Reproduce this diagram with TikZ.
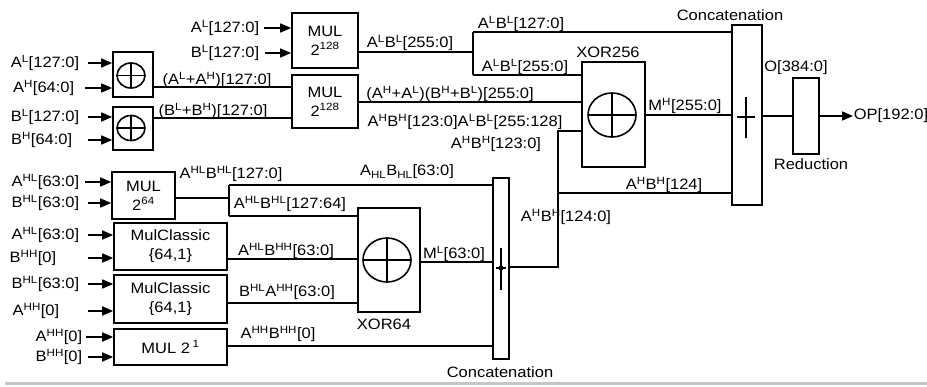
\documentclass[tikz,border=0pt]{standalone}
\usepackage{fontspec}
\setmainfont{Liberation Sans}[FakeStretch=1.1]
\usetikzlibrary{arrows.meta,calc}
\newcommand\myup[1]{\textsuperscript{#1}}
\newcommand\mydn[1]{\textsubscript{#1}}
\begin{document}
\begin{tikzpicture}[x=1pt,y=-1pt,line width=1.6pt,
  every node/.style={font=\fontsize{15}{19}\selectfont,inner sep=0pt},
  blk/.style={draw,rectangle,align=center},
  inarr/.style={-{Triangle[length=11pt,width=9pt]}},
  sym/.style={line width=1.6pt}]
\useasboundingbox (0,0) rectangle (927,386);

% ---------- boxes ----------
\node[blk,minimum width=66pt,minimum height=55pt] (mul1) at (325,40.5) {MUL\\2\myup{128}};
\node[blk,minimum width=66pt,minimum height=53pt] (mul2) at (325,101.5) {MUL\\2\myup{128}};
\node[blk,minimum width=40pt,minimum height=45pt] (xa) at (133,74.5) {};
\node[blk,minimum width=40pt,minimum height=43pt] (xb) at (133,128.5) {};
\node[blk,minimum width=63pt,minimum height=105pt] (x256) at (613.5,114.5) {};
\node[blk,minimum width=30pt,minimum height=180pt] (cat1) at (747,115) {};
\node[blk,minimum width=26pt,minimum height=76pt] (red) at (806,116) {};
\node[blk,minimum width=63pt,minimum height=47pt] (mul64) at (143.5,195.5) {MUL\\2\myup{64}};
\node[blk,minimum width=113pt,minimum height=47pt] (mc1) at (170.5,246.5) {MulClassic\\\{64,1\}};
\node[blk,minimum width=113pt,minimum height=48pt] (mc2) at (170.5,299) {MulClassic\\\{64,1\}};
\node[blk,minimum width=113pt,minimum height=36pt] (mulb) at (170.5,347) {MUL 2\,\myup{1}};
\node[blk,minimum width=62pt,minimum height=104pt] (x64) at (389,260) {};
\node[blk,minimum width=16pt,minimum height=181pt] (cat2) at (501,268.5) {};

% ---------- symbols ----------
\draw[sym] (131,75.5) ellipse [x radius=14pt,y radius=12.5pt];
\draw[sym] (117,75.5) -- (145,75.5) (131,63) -- (131,88);
\draw[sym] (131,128) ellipse [x radius=14pt,y radius=12.5pt];
\draw[sym] (117,128) -- (145,128) (131,115.5) -- (131,140.5);
\draw[sym] (612,115) ellipse [x radius=24pt,y radius=22pt];
\draw[sym] (588,115) -- (636,115) (612,93) -- (612,137);
\draw[sym] (387,260) ellipse [x radius=24pt,y radius=22pt];
\draw[sym] (363,260) -- (411,260) (387,238) -- (387,282);
\draw[line width=2.5pt] (746,97) -- (746,138) (737,117) -- (755,117);
\draw[line width=2pt] (501,248) -- (501,290) (496,268) -- (506,268);
\fill (501,268) circle (2.5pt);

% ---------- box captions ----------
\node (cXa) at (608,52) {XOR256};
\node (cCa) at (730,15) {Concatenation};
\node (cRed) at (811,164) {Reduction};
\node (cXb) at (384,324) {XOR64};
\node (cCb) at (500,372) {Concatenation};

% ---------- inputs ----------
\node[anchor=east] (i1) at (260,28) {A\myup{L}[127:0]};
\node[anchor=east] (i2) at (260,53) {B\myup{L}[127:0]};
\node[anchor=east] (i3) at (80,63) {A\myup{L}[127:0]};
\node[anchor=east] (i4) at (75,88) {A\myup{H}[64:0]};
\node[anchor=east] (i5) at (80,117) {B\myup{L}[127:0]};
\node[anchor=east] (i6) at (73,140) {B\myup{H}[64:0]};
\node[anchor=east] (i7) at (80,182) {A\myup{HL}[63:0]};
\node[anchor=east] (i8) at (80,203) {B\myup{HL}[63:0]};
\node[anchor=east] (i9) at (80,235) {A\myup{HL}[63:0]};
\node[anchor=east] (i10) at (57,258) {B\myup{HH}[0]};
\node[anchor=east] (i11) at (80,284) {B\myup{HL}[63:0]};
\node[anchor=east] (i12) at (60,311) {A\myup{HH}[0]};
\node[anchor=east] (i13) at (83,337) {A\myup{HH}[0]};
\node[anchor=east] (i14) at (83,357) {B\myup{HH}[0]};

\draw[inarr] ([xshift=4pt]i1.east) -- (mul1.west |- i1.east);
\draw[inarr] ([xshift=5pt]i2.east) -- (mul1.west |- i2.east);
\draw[inarr] ([xshift=8pt]i3.east) -- (xa.west |- i3.east);
\draw[inarr] ([xshift=10pt]i4.east) -- (xa.west |- i4.east);
\draw[inarr] ([xshift=8pt]i5.east) -- (xb.west |- i5.east);
\draw[inarr] ([xshift=15pt]i6.east) -- (xb.west |- i6.east);
\draw[inarr] ([xshift=5pt]i7.east) -- (mul64.west |- i7.east);
\draw[inarr] ([xshift=8pt]i8.east) -- (mul64.west |- i8.east);
\draw[inarr] ([xshift=8pt]i9.east) -- (mc1.west |- i9.east);
\draw[inarr] ([xshift=31pt]i10.east) -- (mc1.west |- i10.east);
\draw[inarr] ([xshift=8pt]i11.east) -- (mc2.west |- i11.east);
\draw[inarr] ([xshift=28pt]i12.east) -- (mc2.west |- i12.east);
\draw[inarr] ([xshift=3pt]i13.east) -- (mulb.west |- i13.east);
\draw[inarr] ([xshift=5pt]i14.east) -- (mulb.west |- i14.east);

% ---------- connectors (upper) ----------
\draw (xa.east |- 0,87) -- (mul2.west |- 0,87);
\draw (xb.east |- 0,118) -- (mul2.west |- 0,118);
\coordinate (j0) at (473,52);
\coordinate (jt) at (473,32);
\coordinate (jb) at (473,75);
\draw (mul1.east |- j0) -- (j0);
\draw (jt) -- (jb);
\draw (jt) -- (cat1.west |- jt);
\draw (jb) -- (x256.west |- jb);
\draw (mul2.east |- 0,102) -- (x256.west |- 0,102);
\coordinate (k1) at (558,131);
\coordinate (k2) at (558,193);
\coordinate (k3) at (558,267);
\draw (cat2.east |- k3) -- (k3) -- (k1) -- (x256.west |- k1);
\draw (k2) -- (cat1.west |- k2);
\draw (x256.east |- 0,115) -- (cat1.west |- 0,115);
\draw (cat1.east |- 0,116) -- (red.west |- 0,116);
\node[anchor=west] (op) at (853,116) {OP[192:0]};
\draw[inarr] (red.east |- op.west) -- (op.west);

% ---------- connectors (lower) ----------
\coordinate (h0) at (229,198);
\coordinate (h1) at (229,185);
\coordinate (h2) at (229,216);
\draw (mul64.east |- h0) -- (h0);
\draw (h1) -- (h2);
\draw (h1) -- (cat2.west |- h1);
\draw (h2) -- (x64.west |- h2);
\draw (mc1.east |- 0,259) -- (x64.west |- 0,259);
\draw (mc2.east |- 0,303) -- (x64.west |- 0,303);
\draw (mulb.east |- 0,346) -- (cat2.west |- 0,346);
\draw (x64.east |- 0,262) -- (cat2.west |- 0,262);

% ---------- line labels ----------
\node (l1) at (217,80) {(A\myup{L}+A\myup{H})[127:0]};
\node (l2) at (213,111) {(B\myup{L}+B\myup{H})[127:0]};
\node (l3) at (410,43) {A\myup{L}B\myup{L}[255:0]};
\node (l4) at (521,24) {A\myup{L}B\myup{L}[127:0]};
\node (l5) at (525,67) {A\myup{L}B\myup{L}[255:0]};
\node (l6) at (450,94) {(A\myup{H}+A\myup{L})(B\myup{H}+B\myup{L})[255:0]};
\node (l7) at (465,122) {A\myup{H}B\myup{H}[123:0]A\myup{L}B\myup{L}[255:128]};
\node (l8) at (496,144) {A\myup{H}B\myup{H}[123:0]};
\node (l9) at (685,106) {M\myup{H}[255:0]};
\node (l10) at (664,185) {A\myup{H}B\myup{H}[124]};
\node (l11) at (566,217) {A\myup{H}B\myup{H}[124:0]};
\node (l12) at (796,68) {O[384:0]};
\node (l15) at (231,174) {A\myup{HL}B\myup{HL}[127:0]};
\node (l16) at (290,204) {A\myup{HL}B\myup{HL}[127:64]};
\node (l17) at (407,172) {A\mydn{HL}B\mydn{HL}[63:0]};
\node (l18) at (286,251) {A\myup{HL}B\myup{HH}[63:0]};
\node (l19) at (287,292) {B\myup{HL}A\myup{HH}[63:0]};
\node (l20) at (278,334) {A\myup{HH}B\myup{HH}[0]};
\node (l21) at (454,254) {M\myup{L}[63:0]};

% ---------- bottom rule ----------
\draw[gray!45,line width=3pt] (5,383) -- (927,383);
\end{tikzpicture}
\end{document}
